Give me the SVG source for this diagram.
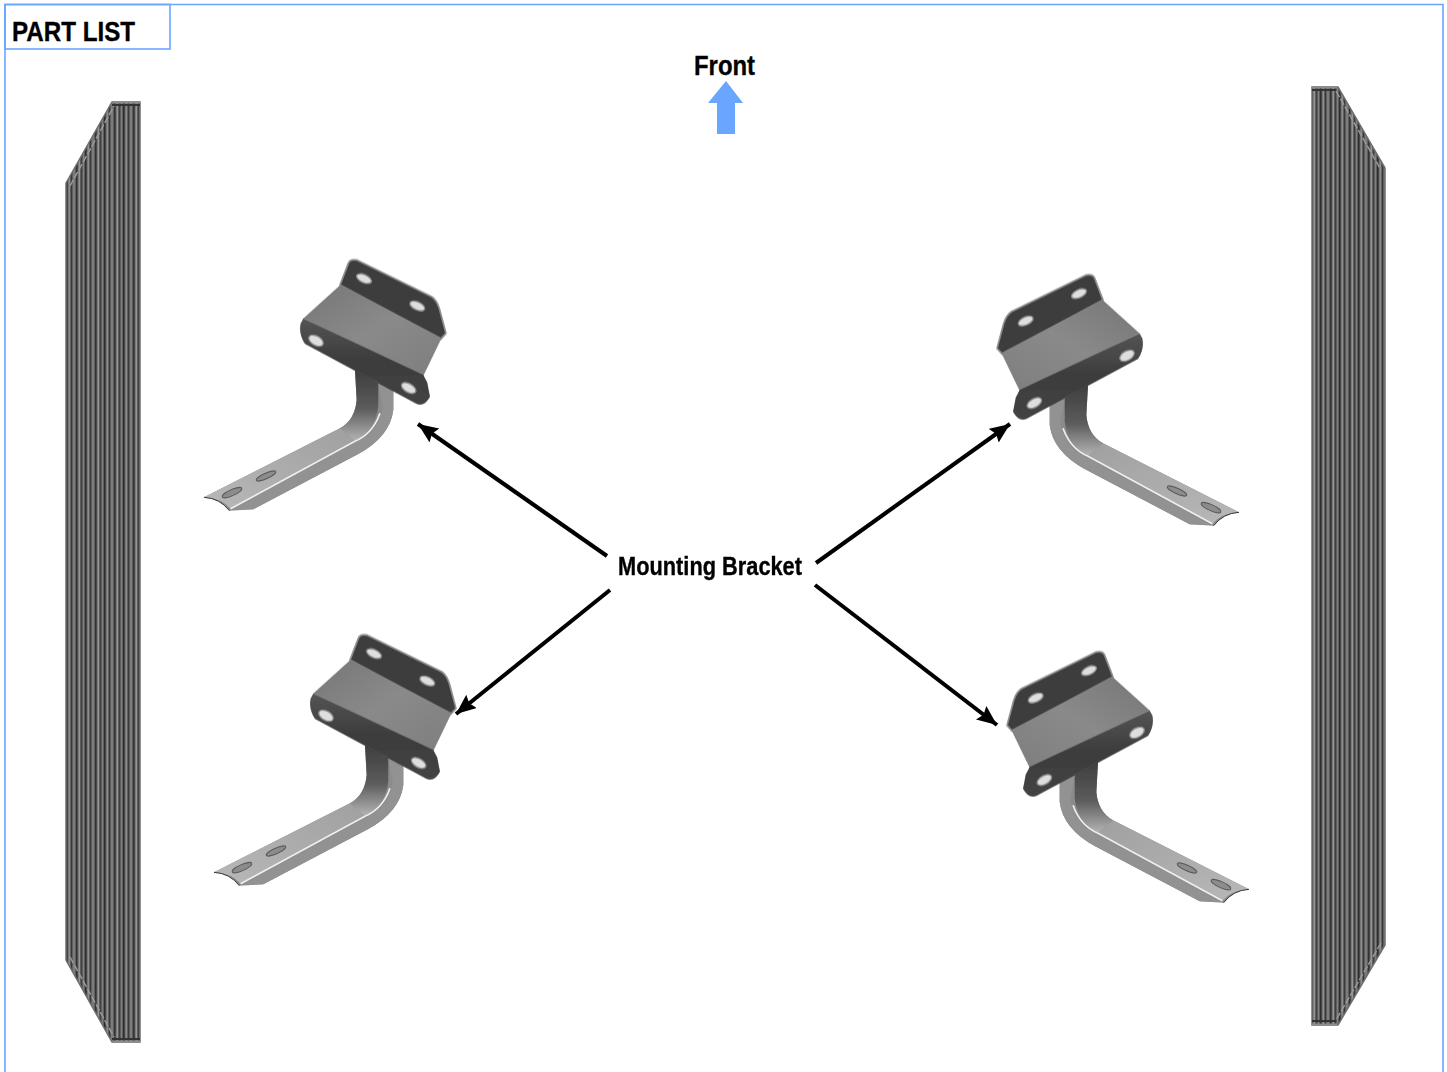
<svg xmlns="http://www.w3.org/2000/svg" width="1447" height="1072" viewBox="0 0 1447 1072">
<style>
.t{font-family:"Liberation Sans",Arial,sans-serif;font-weight:700;fill:#000;stroke:#000;stroke-width:.35}
.frame{fill:none;stroke:#6aa5ff;stroke-width:1.6}
.conn{stroke:#000;stroke-width:4;fill:none;marker-end:url(#ah)}
.hole{fill:#dedede;stroke:#8c8c8c;stroke-width:4}
.slot{fill:#8c8c8c;stroke:#5a5a5a;stroke-width:3}
.rail{fill:url(#rib);stroke:#6e6e6e;stroke-width:1.5}
.cham{fill:none;stroke:#9a9a9a;stroke-width:1.5;stroke-dasharray:7 2}
.dark{fill:none;stroke:#333;stroke-width:2}
.capl{fill:none;stroke:#8c8c8c;stroke-width:2}
</style>
<defs>
<filter id="soft" x="-5%" y="-5%" width="110%" height="110%"><feGaussianBlur stdDeviation="0.5"/></filter>
<marker id="ah" markerUnits="userSpaceOnUse" markerWidth="24" markerHeight="20" refX="20" refY="8.5" orient="auto"><path d="M0 0L20 8.5L0 17L3 8.5Z" fill="#000"/></marker>
<pattern id="rib" patternUnits="userSpaceOnUse" x="66" width="19" height="10">
<rect width="19" height="10" fill="#5e5e5e"/>
<rect x="0" width="1.500" height="10" fill="#2e2e2e"/><rect x="2.500" width="1.500" height="10" fill="#8e8e8e"/>
<rect x="5" width="1" height="10" fill="#3a3a3a"/><rect x="7" width="2" height="10" fill="#7c7c7c"/>
<rect x="10" width="1.500" height="10" fill="#333"/><rect x="12.500" width="1.500" height="10" fill="#969696"/>
<rect x="15" width="1" height="10" fill="#404040"/><rect x="17" width="1" height="10" fill="#808080"/>
</pattern>
<linearGradient id="plate" x1="0" y1="0" x2="1" y2="1"><stop offset="0" stop-color="#767676"/><stop offset=".5" stop-color="#8a8a8a"/><stop offset="1" stop-color="#7e7e7e"/></linearGradient>
<linearGradient id="lower" x1="0" y1="0" x2="0" y2="1"><stop offset="0" stop-color="#555"/><stop offset=".5" stop-color="#3c3c3c"/><stop offset="1" stop-color="#444"/></linearGradient>
<linearGradient id="stem" x1="0" y1="0" x2="0" y2="1"><stop offset="0" stop-color="#3e3e3e"/><stop offset=".55" stop-color="#5c5c5c"/><stop offset="1" stop-color="#b4b4b4"/></linearGradient>
<linearGradient id="arm" x1="0" y1="1" x2="1" y2="0"><stop offset="0" stop-color="#b8b8b8"/><stop offset="1" stop-color="#a0a0a0"/></linearGradient>
<g id="bracket" transform="translate(190 250) scale(.3333)" filter="url(#soft)">
<path d="M495 360L500 450Q495 510 450 535L42 742Q90 745 118 782L190 778L505 612Q600 560 610 480L610 420Z" fill="#8b8b8b"/>
<path d="M42 742L450 535L495 572L122 776Q95 745 42 742Z" fill="url(#arm)"/>
<path d="M495 360L500 450Q495 510 450 535L495 572Q555 545 565 470L565 400Z" fill="url(#stem)"/>
<path d="M565 400L610 425L610 480Q600 560 505 612L190 778L125 780L495 578Q570 545 578 470Z" fill="#929292"/>
<path d="M122 776L495 574Q548 552 570 490" fill="none" stroke="#efefef" stroke-width="5"/>
<path d="M42 742Q90 745 118 782" fill="none" stroke="#333" stroke-width="3"/>
<ellipse class="slot" cx="126" cy="728" rx="32" ry="9" transform="rotate(-24 126 728)"/>
<ellipse class="slot" cx="228" cy="678" rx="32" ry="8" transform="rotate(-24 228 678)"/>
<path d="M475 40Q480 26 500 30L725 140Q740 150 748 175L768 250L752 268L450 105Z" fill="#3e3e3e" stroke="#8f8f8f" stroke-width="5" stroke-linejoin="round"/>
<path d="M452 104L755 264L700 378L340 205Z" fill="url(#plate)"/>
<path d="M340 205L700 375L712 398L720 440Q705 470 680 462L345 282Q325 250 332 220Z" fill="url(#lower)"/>
<ellipse class="hole" cx="522" cy="86" rx="24" ry="12" transform="rotate(25 522 86)"/>
<ellipse class="hole" cx="682" cy="168" rx="24" ry="12" transform="rotate(25 682 168)"/>
<ellipse class="hole" cx="378" cy="272" rx="24" ry="14" transform="rotate(30 378 272)"/>
<ellipse class="hole" cx="656" cy="414" rx="24" ry="13" transform="rotate(30 656 414)"/>
</g>
</defs>
<path class="frame" d="M5 1072V4.500H1443V1072"/>
<g id="part-list"><rect class="frame" x="5" y="4.500" width="165" height="44.500"/><text class="t" x="12" y="41" font-size="28" textLength="123" lengthAdjust="spacingAndGlyphs">PART LIST</text></g>
<g id="front"><text class="t" x="694" y="75" font-size="28" textLength="61" lengthAdjust="spacingAndGlyphs">Front</text><path d="M726 81L743 103H735V134H717V103H708Z" fill="#6aa5ff"/></g>
<g id="rail-left">
<path class="rail" d="M66 183L112 102H140V1042H112L66 960Z"/>
<path class="cham" d="M70 186L114 106M70 957L114 1037"/>
<path class="dark" d="M112 105H140M112 1039H140"/>
<path class="capl" d="M113 102.500H140M113 1041.500H140"/>
</g>
<g id="rail-right">
<path class="rail" d="M1312 87H1338L1385 168V945L1338 1025H1312Z"/>
<path class="cham" d="M1336 91L1381 170M1381 943L1336 1020"/>
<path class="dark" d="M1312 90H1336M1312 1021H1336"/>
<path class="capl" d="M1312 87.500H1337M1312 1024.500H1337"/>
</g>
<g id="bracket-front-left"><use href="#bracket"/></g>
<g id="bracket-rear-left"><use href="#bracket" transform="translate(10 375)"/></g>
<g id="bracket-front-right"><use href="#bracket" transform="translate(1443 15) scale(-1 1)"/></g>
<g id="bracket-rear-right"><use href="#bracket" transform="translate(1453 392) scale(-1 1)"/></g>
<g id="mounting-label"><text class="t" x="618" y="575" font-size="26" textLength="184" lengthAdjust="spacingAndGlyphs">Mounting Bracket</text></g>
<g id="connectors">
<line class="conn" x1="607" y1="556" x2="418" y2="424"/>
<line class="conn" x1="610" y1="590" x2="456" y2="714"/>
<line class="conn" x1="816" y1="563" x2="1010" y2="424"/>
<line class="conn" x1="815" y1="585" x2="997" y2="725"/>
</g>
</svg>
